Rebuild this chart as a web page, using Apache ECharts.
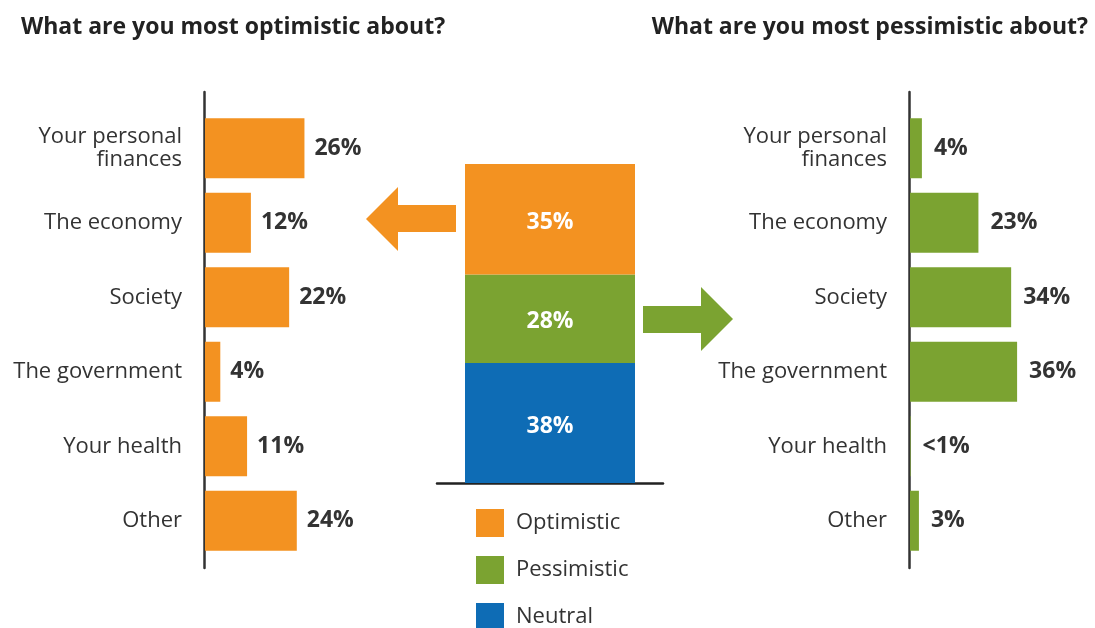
<!DOCTYPE html>
<html>
<head>
<meta charset="utf-8">
<script src="https://cdn.jsdelivr.net/npm/echarts@6/dist/echarts.min.js"></script>
<style>
  html, body { margin: 0; padding: 0; background: #fff; }
  #chart { width: 1095px; height: 628px; }
</style>
</head>
<body>
<div id="chart"></div>
<script>
// Survey topics (same order on both sides)
const optimisticTopics = ['Your personal\nfinances', 'The economy', 'Society', 'The government', 'Your health', 'Other'];
const pessimisticTopics = ['Your personal\nfinances', 'The economy', 'Society', 'The government', 'Your health', 'Other'];

// Share of respondents per topic (%)
const optimisticValues = [26, 12, 22, 4, 11, 24];
const pessimisticValues = [4, 23, 34, 36, 0.2, 3];

// Overall mood split (%)
const moodNames = ['Optimistic', 'Pessimistic', 'Neutral'];
const moodValues = [35, 28, 38];

const ORANGE = '#F39221';
const GREEN = '#7BA331';
const BLUE = '#0E6CB5';
const TEXT = '#333333';
const FONT = '"Open Sans", "Noto Sans", sans-serif';

const pct = v => (v < 1 ? '<1%' : v + '%');

const chart = echarts.init(document.getElementById('chart'), null, { renderer: 'canvas' });

const valueLabel = {
  show: true,
  position: 'right',
  distance: 10,
  color: TEXT,
  fontFamily: FONT,
  fontWeight: 'bold',
  fontSize: 23,
  formatter: p => pct(p.value)
};

const categoryLabel = {
  color: TEXT,
  fontFamily: FONT,
  fontSize: 22,
  lineHeight: 23,
  margin: 23,
  align: 'right'
};

const hidden = { show: false };

// one legend block per mood, stacked under the centre column
const legends = moodNames.map((name, i) => ({
  data: [name],
  orient: 'vertical',
  left: 476, top: 509 + i * 47,
  padding: 0,
  itemWidth: 28, itemHeight: 28,
  icon: 'rect',
  selectedMode: false,
  textStyle: { fontFamily: FONT, fontSize: 22, color: TEXT, padding: [0, 0, 0, 7] }
}));

chart.setOption({
  animation: false,
  textStyle: { fontFamily: FONT },
  title: [
    {
      text: 'What are you most optimistic about?',
      left: 16, top: 11,
      textStyle: { fontFamily: FONT, fontWeight: 'bold', fontSize: 23, color: '#222' }
    },
    {
      text: 'What are you most pessimistic about?',
      right: 2, top: 11,
      textStyle: { fontFamily: FONT, fontWeight: 'bold', fontSize: 23, color: '#222' }
    }
  ],
  legend: legends,
  grid: [
    { left: 205, top: 111, width: 153, height: 447 },   // optimistic bars
    { left: 204, top: 92, width: 1, height: 476 },      // optimistic axis line
    { left: 437, top: 164, width: 226, height: 319 },   // mood stack
    { left: 910, top: 111, width: 119, height: 447 },   // pessimistic bars
    { left: 909, top: 92, width: 1, height: 476 }       // pessimistic axis line
  ],
  xAxis: [
    { gridIndex: 0, type: 'value', min: 0, max: 40, show: false },
    { gridIndex: 1, type: 'value', show: false },
    {
      gridIndex: 2, type: 'category', data: ['Mood'],
      axisLine: { show: true, lineStyle: { color: '#222', width: 2.5 } },
      axisTick: hidden, axisLabel: hidden
    },
    { gridIndex: 3, type: 'value', min: 0, max: 40, show: false },
    { gridIndex: 4, type: 'value', show: false }
  ],
  yAxis: [
    {
      gridIndex: 0, type: 'category', inverse: true, data: optimisticTopics,
      axisLine: hidden, axisTick: hidden, splitLine: hidden,
      axisLabel: categoryLabel
    },
    {
      gridIndex: 1, type: 'value', splitLine: hidden, axisTick: hidden, axisLabel: hidden,
      axisLine: { show: true, lineStyle: { color: '#333', width: 2.5 } }
    },
    { gridIndex: 2, type: 'value', min: 0, max: 101, show: false },
    {
      gridIndex: 3, type: 'category', inverse: true, data: pessimisticTopics,
      axisLine: hidden, axisTick: hidden, splitLine: hidden,
      axisLabel: categoryLabel
    },
    {
      gridIndex: 4, type: 'value', splitLine: hidden, axisTick: hidden, axisLabel: hidden,
      axisLine: { show: true, lineStyle: { color: '#333', width: 2.5 } }
    }
  ],
  series: [
    {
      name: 'Optimistic topics', type: 'bar', xAxisIndex: 0, yAxisIndex: 0,
      data: optimisticValues, barWidth: 60,
      itemStyle: { color: ORANGE }, label: valueLabel
    },
    {
      name: 'Pessimistic topics', type: 'bar', xAxisIndex: 3, yAxisIndex: 3,
      data: pessimisticValues, barWidth: 60,
      itemStyle: { color: GREEN },
      label: Object.assign({}, valueLabel, { distance: 12 })
    },
    ...moodNames.map((name, i) => ({
      name, type: 'bar', stack: 'mood', xAxisIndex: 2, yAxisIndex: 2,
      data: [moodValues[i]], barWidth: 170,
      itemStyle: { color: [ORANGE, GREEN, BLUE][i] },
      label: {
        show: true, position: 'inside', color: '#fff', offset: [0, 3],
        fontFamily: FONT, fontWeight: 'bold', fontSize: 23,
        formatter: p => p.value + '%'
      }
    })).reverse()
  ],
  graphic: [
    {
      // arrow pointing from the optimistic block to its breakdown
      type: 'polygon',
      shape: { points: [[456, 205], [398, 205], [398, 187], [366, 219], [398, 251], [398, 232], [456, 232]] },
      style: { fill: ORANGE }
    },
    {
      // arrow pointing from the pessimistic block to its breakdown
      type: 'polygon',
      shape: { points: [[643, 306], [701, 306], [701, 287], [733, 319], [701, 351], [701, 333], [643, 333]] },
      style: { fill: GREEN }
    }
  ]
});
</script>
</body>
</html>
